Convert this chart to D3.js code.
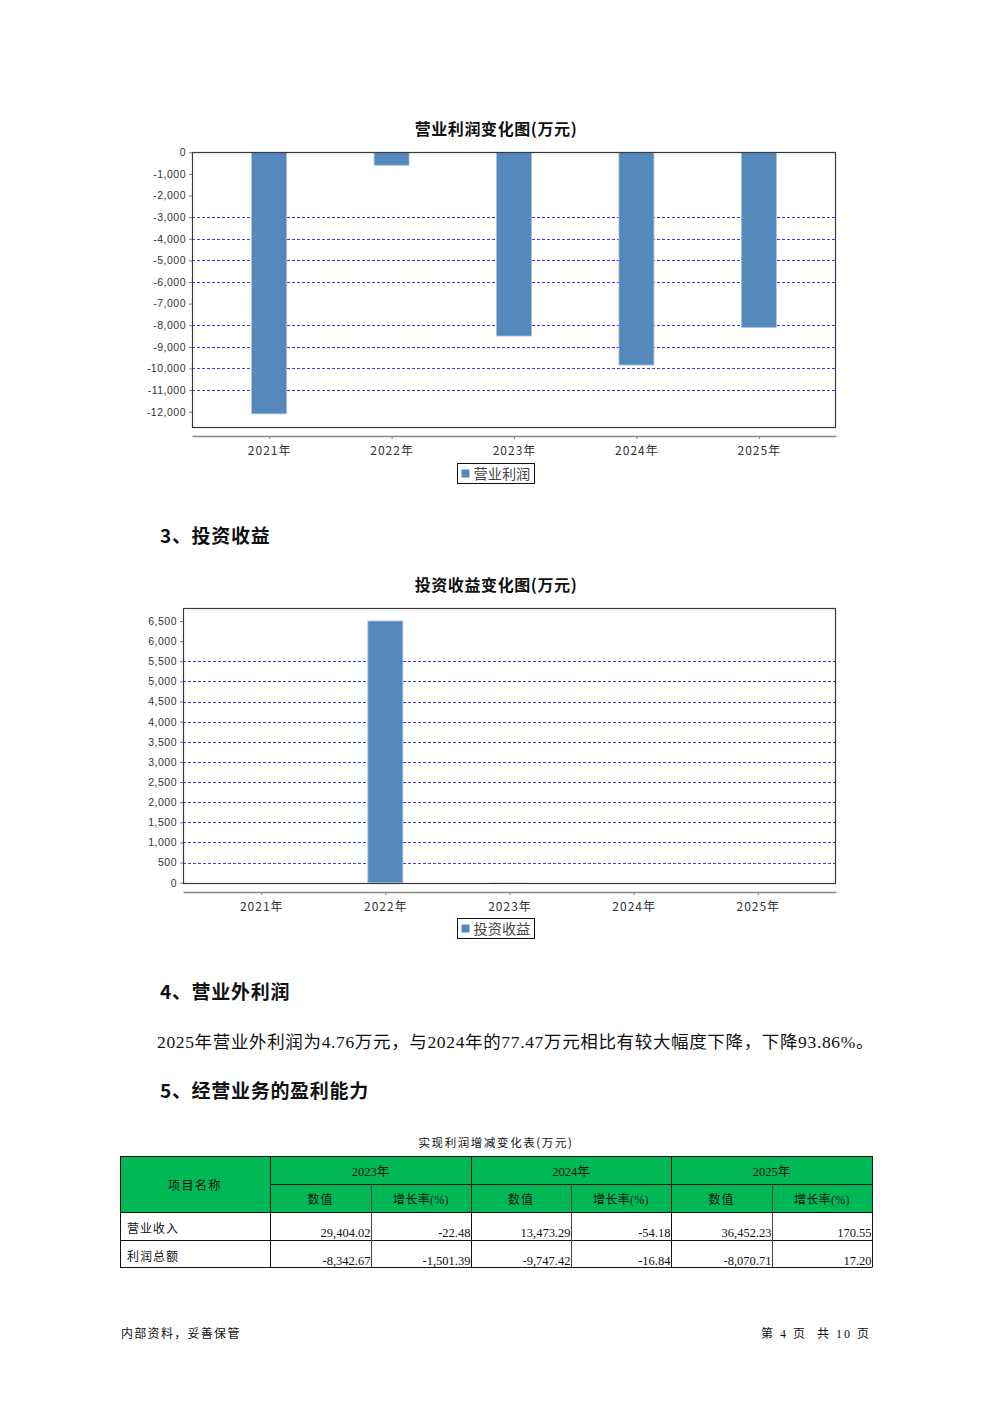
<!DOCTYPE html>
<html>
<head>
<meta charset="utf-8">
<script src="https://cdn.jsdelivr.net/npm/d3@7"></script>
<style>
html,body{margin:0;padding:0;background:#fff;}
svg{display:block;}
</style>
</head>
<body>
<script>
// ---------- data ----------
const years = ["2021年","2022年","2023年","2024年","2025年"];
const opProfit = [-12100, -600, -8500, -9840, -8100];
const opTicks = [0,-1000,-2000,-3000,-4000,-5000,-6000,-7000,-8000,-9000,-10000,-11000,-12000];
const opGrid = [-3000,-4000,-5000,-6000,-8000,-9000,-10000,-11000];
const invIncome = [0, 6500, 8, 0, 0];
const invTicks = [0,500,1000,1500,2000,2500,3000,3500,4000,4500,5000,5500,6000,6500];
const invGrid = [500,1000,1500,2000,2500,3000,3500,4000,4500,5000,5500];

const tableYears = ["2023年","2024年","2025年"];
const tableRows = ["营业收入","利润总额"];
const tableValues = [
  ["29,404.02","-22.48","13,473.29","-54.18","36,452.23","170.55"],
  ["-8,342.67","-1,501.39","-9,747.42","-16.84","-8,070.71","17.20"]
];

const W = 992, H = 1403;
const svg = d3.select("body").append("svg").attr("width", W).attr("height", H);
svg.append("rect").attr("width", W).attr("height", H).attr("fill", "#fff");

const CJK = "'Noto Sans CJK SC', 'Noto Sans', sans-serif";
const SANS = "'Liberation Sans', Arial, sans-serif";
const SERIF = "'Liberation Serif', 'Times New Roman', serif";
const MIX = "'Liberation Serif', 'Noto Sans CJK SC', serif";
const BAR = "#5689bb", BAR_EDGE = "#a9c3de", GRID = "#3a3af0";
const fmt = v => d3.format(",")(v).replace("\u2212", "-");

function barChart(cfg) {
  const g = svg.append("g");
  g.append("text").attr("x", 496).attr("y", cfg.titleY).attr("text-anchor", "middle")
    .attr("font-family", CJK).attr("font-weight", "bold").attr("font-size", 16)
    .attr("letter-spacing", 0.6).attr("fill", "#111").text(cfg.title);

  const x = d3.scalePoint().domain(years).range([cfg.left, cfg.right]).padding(0.63);
  const y = d3.scaleLinear().domain(cfg.domain).range(cfg.yRange);

  g.selectAll(".grid").data(cfg.grid).join("line")
    .attr("x1", cfg.left).attr("x2", cfg.right)
    .attr("y1", d => Math.round(y(d)) + 0.5).attr("y2", d => Math.round(y(d)) + 0.5)
    .attr("stroke", GRID).attr("stroke-width", 1).attr("stroke-dasharray", "3,2");

  const bw = 35;
  g.selectAll(".bar").data(cfg.values).join("rect")
    .attr("x", (d, i) => x(years[i]) - bw / 2)
    .attr("width", bw)
    .attr("y", d => Math.min(y(0), y(d)))
    .attr("height", d => Math.abs(y(d) - y(0)))
    .attr("fill", BAR)
    .attr("stroke", BAR_EDGE).attr("stroke-width", d => Math.abs(y(d) - y(0)) > 1.5 ? 0.8 : 0)
    .attr("opacity", d => Math.abs(y(d) - y(0)) > 1.5 ? 1 : 0.35);

  g.append("rect").attr("x", cfg.left + 0.5).attr("y", cfg.top + 0.5)
    .attr("width", cfg.right - cfg.left - 1).attr("height", cfg.bottom - cfg.top - 1)
    .attr("fill", "none").attr("stroke", "#3a3a3a").attr("stroke-width", 1.2);

  const ya = d3.axisLeft(y).tickValues(cfg.ticks).tickFormat(fmt).tickSize(3).tickPadding(3);
  const yg = g.append("g").attr("transform", `translate(${cfg.left},0)`).call(ya);
  yg.select(".domain").remove();
  yg.selectAll(".tick line").attr("stroke", "#777");
  yg.selectAll("text").attr("font-family", SANS).attr("font-size", 10.5)
    .attr("letter-spacing", 0.5).attr("fill", "#333");

  const xa = d3.axisBottom(x).tickSize(3).tickPadding(7).tickSizeOuter(0);
  const xg = g.append("g").attr("transform", `translate(0,${cfg.axisY})`).call(xa);
  xg.select(".domain").attr("stroke", "#888").attr("stroke-width", 1.6);
  xg.selectAll(".tick line").attr("stroke", "#888");
  xg.selectAll("text").attr("font-family", CJK).attr("font-size", 12)
    .attr("letter-spacing", 1).attr("fill", "#333");

  const lg = g.append("g").attr("transform", `translate(457.5,${cfg.legendY + 0.5})`);
  lg.append("rect").attr("width", 77).attr("height", 20).attr("fill", "#fff")
    .attr("stroke", "#111").attr("stroke-width", 1);
  lg.append("rect").attr("x", 4).attr("y", 6).attr("width", 8).attr("height", 8).attr("fill", BAR);
  lg.append("text").attr("x", 16).attr("y", 15.5).attr("font-family", CJK).attr("font-size", 14.2)
    .attr("fill", "#444").text(cfg.legend);
}

barChart({
  title: "营业利润变化图(万元)", titleY: 135,
  left: 192, right: 836, top: 152, bottom: 428, axisY: 436,
  domain: [0, -12000], yRange: [152.3, 411.7],
  ticks: opTicks, grid: opGrid, values: opProfit, legend: "营业利润", legendY: 463
});

barChart({
  title: "投资收益变化图(万元)", titleY: 591,
  left: 183, right: 836, top: 608, bottom: 884, axisY: 892,
  domain: [0, 6500], yRange: [882.7, 621],
  ticks: invTicks, grid: invGrid, values: invIncome, legend: "投资收益", legendY: 918
});

function heading(t, yb) {
  svg.append("text").attr("x", 160).attr("y", yb).attr("font-family", CJK)
    .attr("font-weight", "bold").attr("font-size", 19).attr("letter-spacing", 0.7)
    .attr("fill", "#111").text(t);
}
heading("3、投资收益", 543);
heading("4、营业外利润", 999);
heading("5、经营业务的盈利能力", 1098);

svg.append("text").attr("x", 157).attr("y", 1048).attr("font-family", MIX)
  .attr("font-size", 17.5).attr("letter-spacing", 0.65).attr("fill", "#111")
  .text("2025年营业外利润为4.76万元，与2024年的77.47万元相比有较大幅度下降，下降93.86%。");

svg.append("text").attr("x", 496).attr("y", 1147).attr("text-anchor", "middle")
  .attr("font-family", CJK).attr("font-size", 11.5).attr("letter-spacing", 1.6).attr("fill", "#111")
  .text("实现利润增减变化表(万元)");

const cols = [120, 270, 371, 471, 571, 671, 772, 872];
const rows = [1156, 1184, 1212, 1240, 1267];
const GREEN = "#00b956";
const tg = svg.append("g");
tg.append("rect").attr("x", cols[0]).attr("y", rows[0]).attr("width", cols[7] - cols[0])
  .attr("height", rows[2] - rows[0]).attr("fill", GREEN);
const L = (x1, y1, x2, y2, c) => tg.append("line").attr("x1", x1).attr("y1", y1).attr("x2", x2).attr("y2", y2)
  .attr("stroke", c || "#111").attr("stroke-width", 1);
[rows[0], rows[2], rows[3], rows[4]].forEach(yy => L(cols[0], yy + 0.5, cols[7], yy + 0.5));
L(cols[1], rows[1] + 0.5, cols[7], rows[1] + 0.5);
[0, 1, 3, 5, 7].forEach(i => L(cols[i] + 0.5, rows[0], cols[i] + 0.5, rows[4] + 0.5));
[2, 4, 6].forEach(i => L(cols[i] + 0.5, rows[1], cols[i] + 0.5, rows[4] + 0.5, "#444"));

tg.append("text").attr("x", (cols[0] + cols[1]) / 2).attr("y", 1190).attr("text-anchor", "middle")
  .attr("font-family", CJK).attr("font-size", 12).attr("letter-spacing", 1.5).attr("fill", "#111").text("项目名称");
tableYears.forEach((yv, i) => {
  tg.append("text").attr("x", (cols[1 + 2 * i] + cols[3 + 2 * i]) / 2).attr("y", 1176)
    .attr("text-anchor", "middle").attr("font-family", MIX).attr("font-size", 12.5).attr("fill", "#111").text(yv);
  tg.append("text").attr("x", (cols[1 + 2 * i] + cols[2 + 2 * i]) / 2).attr("y", 1204)
    .attr("text-anchor", "middle").attr("font-family", CJK).attr("font-size", 12).attr("letter-spacing", 1).attr("fill", "#111").text("数值");
  tg.append("text").attr("x", (cols[2 + 2 * i] + cols[3 + 2 * i]) / 2).attr("y", 1204)
    .attr("text-anchor", "middle").attr("font-family", MIX).attr("font-size", 12).attr("letter-spacing", 0.3).attr("fill", "#111").text("增长率(%)");
});
tableRows.forEach((r, ri) => {
  tg.append("text").attr("x", 127).attr("y", rows[2 + ri] + 21).attr("font-family", CJK)
    .attr("font-size", 12).attr("letter-spacing", 1).attr("fill", "#111").text(r);
  tableValues[ri].forEach((v, ci) => {
    tg.append("text").attr("x", cols[2 + ci] - 0.5).attr("y", rows[2 + ri] + 24.5).attr("text-anchor", "end")
      .attr("font-family", SERIF).attr("font-size", 12.5).attr("fill", "#111").text(v);
  });
});

svg.append("text").attr("x", 121).attr("y", 1338).attr("font-family", CJK).attr("font-size", 12)
  .attr("letter-spacing", 1.3).attr("fill", "#111").text("内部资料，妥善保管");
svg.append("text").attr("x", 871).attr("y", 1338).attr("text-anchor", "end").attr("font-family", MIX)
  .attr("font-size", 12).attr("letter-spacing", 2).attr("fill", "#111")
  .attr("xml:space", "preserve").text("第 4 页  共 10 页");
</script>
</body>
</html>
